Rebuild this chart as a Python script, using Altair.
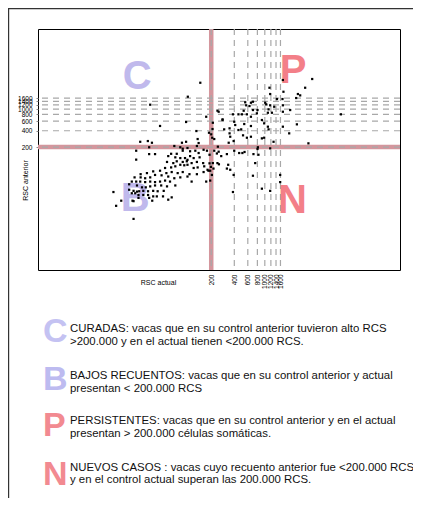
import altair as alt
import pandas as pd

# ---- data (RSC in thousands of cells/ml) ----
rsc_actual = [
    144, 99, 32, 241, 172, 94, 210, 43, 128, 187, 200, 208, 219, 133, 23.7, 29.8, 33.7, 83, 94, 137,
    66, 79, 85, 98, 130, 31, 244, 1720, 4150, 3360, 1750, 1150, 1175, 2700, 2893, 2566, 1700, 1440, 1011, 700,
    659, 555, 572, 631, 1042, 1175, 1720, 1326, 803, 700, 530, 1120, 2142, 1096, 1238, 1720, 384, 453, 502, 584,
    659, 788, 916, 281, 399, 411, 539, 659, 981, 1096, 1120, 1720, 2620, 2080, 3705, 9830, 295, 347, 453, 492,
    347, 354, 392, 338, 520, 584, 659, 981, 916, 1300, 812, 1175, 21, 31, 37, 60, 71, 85, 106, 124,
    137, 159, 176, 190, 219, 55, 68, 79, 91, 98, 106, 118, 141, 157, 130, 111, 96, 85, 71, 64,
    53, 60, 68, 79, 89, 98, 118, 133, 162, 179, 210, 241, 214, 50, 43, 52, 61, 73, 85, 104,
    130, 159, 194, 204, 35, 29, 24, 21, 37, 45, 55, 66, 79, 98, 111, 172, 194, 32, 27.5, 24,
    20, 18.4, 21, 23.7, 27.5, 32, 37, 43, 50, 58, 68, 53, 44.5, 37, 32, 28, 25, 21.5, 17, 17,
    19.4, 23, 26, 30, 35, 40, 48, 18.4, 20.4, 22.5, 26, 30, 35, 39, 47, 61, 55, 31, 34, 22.5,
    18.8, 10.6, 13.4, 11.5, 19.4, 19.4, 270, 320, 399, 463, 510, 544, 711, 826, 803, 333, 320, 354, 392, 749,
    700, 1586, 1586, 916, 1175, 384, 250, 237, 252, 250, 281, 206, 190, 198, 184, 21.5,
]
rsc_anterior = [
    3080, 1700, 1210, 940, 725, 580, 562, 490, 395, 367, 343, 430, 281, 281, 250, 258, 240, 240, 250, 237,
    209, 198, 186, 192, 209, 198, 203, 3460, 3610, 2490, 2100, 2490, 1906, 1906, 1800, 1608, 1540, 1540, 1317, 1374,
    1317, 1340, 1180, 1144, 1230, 1180, 1180, 1110, 965, 965, 937, 994, 965, 860, 860, 897, 804, 804, 804, 804,
    725, 839, 631, 631, 587, 510, 532, 489, 548, 475, 424, 475, 525, 358, 234, 804, 424, 443, 412, 424,
    358, 310, 258, 240, 329, 297, 310, 297, 289, 250, 198, 189, 171, 148, 148, 150, 150, 171, 167, 171,
    155, 178, 171, 144, 171, 136, 129, 125, 125, 116, 136, 125, 129, 101, 106, 101, 109, 106, 109, 101,
    106, 84, 88, 94, 92, 94, 82, 84, 88, 76, 101, 101, 80, 82, 73, 66, 69, 66, 69, 63,
    63, 69, 73, 61, 71, 66, 63, 117, 61, 60, 57, 53, 55, 57, 46, 46, 48, 55, 53, 55,
    55, 46, 46, 46, 45, 46, 45, 46, 48, 46, 39, 37.5, 39, 39, 37.5, 36, 36, 39, 41, 32.5,
    31, 30.5, 31, 30.5, 31, 30.5, 31, 28, 28, 26, 26, 26, 24.5, 24.5, 24.5, 23.5, 21.3, 23, 20.4, 23,
    20.4, 29.5, 20.4, 16.4, 9.4, 20, 136, 148, 171, 155, 155, 162, 148, 144, 184, 94, 80, 76, 61, 101,
    59, 61, 45, 34, 31, 29.5, 164, 152, 96, 897, 650, 297, 100, 86, 73, 30,
]
tick_values = [200, 400, 600, 800, 1000, 1200, 1400, 1600]
threshold = [200]

quad_letters = ["C", "P", "B", "N"]
quad_x = [21.6, 2343, 20.4, 2290]
quad_y = [2410, 3044, 13.1, 12.0]
quad_colors = ["#c0b9ec", "#f37f88", "#c0b9ec", "#f37f88"]

legend_letters = ["C", "B", "P", "N"]
legend_colors = ["#c4c2f2", "#bdbbf0", "#f28a91", "#f28a91"]
legend_lines = [
    ["CURADAS: vacas que en su control anterior tuvieron alto RCS",
     ">200.000 y en el actual tienen  <200.000 RCS."],
    ["BAJOS RECUENTOS: vacas que en su control anterior y actual",
     "presentan < 200.000 RCS"],
    ["PERSISTENTES: vacas que en su control anterior y en el actual",
     "presentan > 200.000 células somáticas."],
    ["NUEVOS CASOS : vacas cuyo recuento anterior fue <200.000 RCS",
     "y en el control actual superan las 200.000 RCS."],
]

# ---- layout (pixels relative to the plot area) ----
W, H = 362, 241
FONT = "Liberation Sans"
letter_base = [313, 361, 407, 456]
line_base = [[303, 316], [350, 362.7], [395, 407.7], [441.7, 453.7]]

xscale = alt.Scale(type="log", domain=[1.1, 58000], nice=False)
yscale = alt.Scale(type="log", domain=[1.07, 30300], nice=False)

xaxis = alt.Axis(values=tick_values, title="RSC actual", format="d", labelAngle=270,
                 labelFontSize=6.5, labelFont=FONT, labelColor="black", labelPadding=4,
                 ticks=False, domain=False, grid=False, labelOverlap=False,
                 titleFontSize=7, titleFont=FONT, titleFontWeight="normal", titleColor="black",
                 titleX=120, titleY=12, titleBaseline="middle", titleAlign="center")
yaxis = alt.Axis(values=tick_values, title="RSC anterior", format="d",
                 labelFontSize=6.5, labelFont=FONT, labelColor="black", labelPadding=4,
                 tickSize=2, tickColor="#888888", domain=False, grid=False, labelOverlap=False,
                 titleFontSize=7, titleFont=FONT, titleFontWeight="normal", titleColor="black",
                 titleX=-13, titleY=151, titleAngle=270, titleBaseline="middle", titleAlign="center")

X = alt.X("actual:Q", scale=xscale, axis=xaxis)
Y = alt.Y("anterior:Q", scale=yscale, axis=yaxis)

pts = pd.DataFrame({"actual": rsc_actual, "anterior": rsc_anterior})

pink_v = alt.Chart(pd.DataFrame({"actual": threshold})).mark_rule(
    color="#d4969d", strokeWidth=4.5).encode(x=X)
pink_h = alt.Chart(pd.DataFrame({"anterior": threshold})).mark_rule(
    color="#d4969d", strokeWidth=4.5).encode(y=Y)
dash_v = alt.Chart(pd.DataFrame({"actual": tick_values})).mark_rule(
    color="#a8a8a8", strokeWidth=1.2, strokeDash=[6, 5]).encode(x=X)
dash_h = alt.Chart(pd.DataFrame({"anterior": tick_values})).mark_rule(
    color="#a8a8a8", strokeWidth=1.2, strokeDash=[6, 5]).encode(y=Y)

letters = alt.Chart(pd.DataFrame({"actual": quad_x, "anterior": quad_y,
                                  "letter": quad_letters, "col": quad_colors})).mark_text(
    font=FONT, fontWeight="bold", fontSize=40, align="center", baseline="alphabetic").encode(
    x=X, y=Y, text="letter:N", color=alt.Color("col:N", scale=None))

points = alt.Chart(pts).mark_square(size=5, color="black", opacity=1).encode(x=X, y=Y)

layers = [pink_v, pink_h, dash_v, dash_h, letters, points]

for i in range(4):
    layers.append(
        alt.Chart(pd.DataFrame({"t": [legend_letters[i]]})).mark_text(
            font=FONT, fontWeight="bold", fontSize=34, align="left", baseline="alphabetic",
            color=legend_colors[i]).encode(x=alt.value(5), y=alt.value(letter_base[i]), text="t:N"))
    for j in range(2):
        layers.append(
            alt.Chart(pd.DataFrame({"t": [legend_lines[i][j]]})).mark_text(
                font=FONT, fontSize=11.4, align="left", baseline="alphabetic",
                color="#111111").encode(x=alt.value(32), y=alt.value(line_base[i][j]), text="t:N"))

# panel border (top and left)
layers.append(alt.Chart(pd.DataFrame({"t": [0]})).mark_rule(color="#333333", strokeWidth=1.2).encode(
    x=alt.value(-30), x2=alt.value(375), y=alt.value(-20.4)))
layers.append(alt.Chart(pd.DataFrame({"t": [0]})).mark_rule(color="#333333", strokeWidth=1.2).encode(
    x=alt.value(-29.4), y=alt.value(-21), y2=alt.value(469)))

chart = alt.layer(*layers).properties(
    width=W, height=H,
    autosize=alt.AutoSizeParams(type="none"),
    padding={"left": 30, "top": 21, "right": 13, "bottom": 228},
    background="white",
).configure_view(stroke="black", strokeWidth=1)

chart.save("out.html", embed_options={"renderer": "svg", "actions": False})
